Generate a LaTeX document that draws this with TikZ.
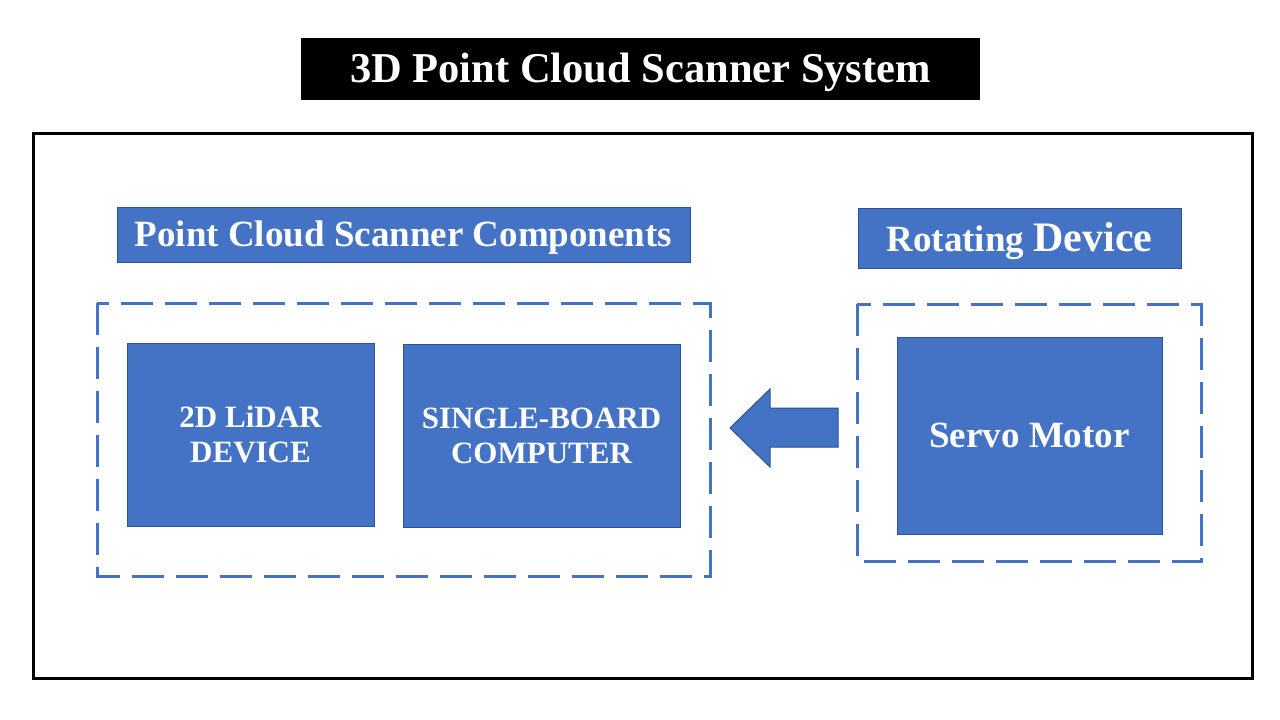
\documentclass[tikz,border=0pt]{standalone}
\usepackage{fontspec}
\setmainfont{Liberation Serif}
\definecolor{boxblue}{HTML}{4472C4}
\definecolor{boxedge}{HTML}{2F528F}

\begin{document}
\begin{tikzpicture}[x=1pt,y=-1pt,font=\bfseries]
\tikzstyle{b}=[draw=boxedge,fill=boxblue,text=white,line width=1pt,inner sep=0,align=center,text depth=0pt]
\tikzstyle{d}=[draw=boxblue,line width=3pt,dash pattern=on 32pt off 12pt]

    \useasboundingbox[fill=white] (0,0) rectangle (1280,720);

    \node[fill=black,text=white,inner sep=0,minimum width=679,minimum height=62,text height=27pt,text depth=0pt,font=\bfseries\fontsize{42.5}{46}\selectfont] (title) at (640.5,69){3D Point Cloud Scanner System};
    \draw[line width=3pt] (33,133) rectangle (1252,678);

    \node[b,minimum width=573,minimum height=55,text height=24.5pt,font=\bfseries\fontsize{37}{40}\selectfont] (comp) at (403.5,234.5){Point Cloud Scanner Components};
    \node[b,minimum width=323,minimum height=60,text height=27.5pt] (rot) at (1019.5,238){\fontsize{37}{40}\selectfont Rotating \fontsize{42}{44}\selectfont Device};

    \draw[d] (97,303) rectangle (710,576);
    \draw[d] (857,304) rectangle (1201,561);

    \node[b,minimum width=247,minimum height=183,text height=55.5pt,font=\bfseries\fontsize{31}{34.5}\selectfont] (lidar) at (250.5,434.5){2D LiDAR\\DEVICE};
    \node[b,minimum width=277,minimum height=183,text height=55.5pt,font=\bfseries\fontsize{31}{34.5}\selectfont] (sbc) at (541.5,435.5){SINGLE-BOARD\\COMPUTER};
    \node[b,minimum width=265,minimum height=197,text height=24.5pt,font=\bfseries\fontsize{37}{40}\selectfont] (servo) at (1029.5,435.5){Servo Motor};

    \draw[draw=boxedge,fill=boxblue,line width=1pt] (838,408) -- (770,408) -- (770,389) -- (730,428) -- (770,467) -- (770,447) -- (838,447) -- cycle;

\end{tikzpicture}
\end{document}
